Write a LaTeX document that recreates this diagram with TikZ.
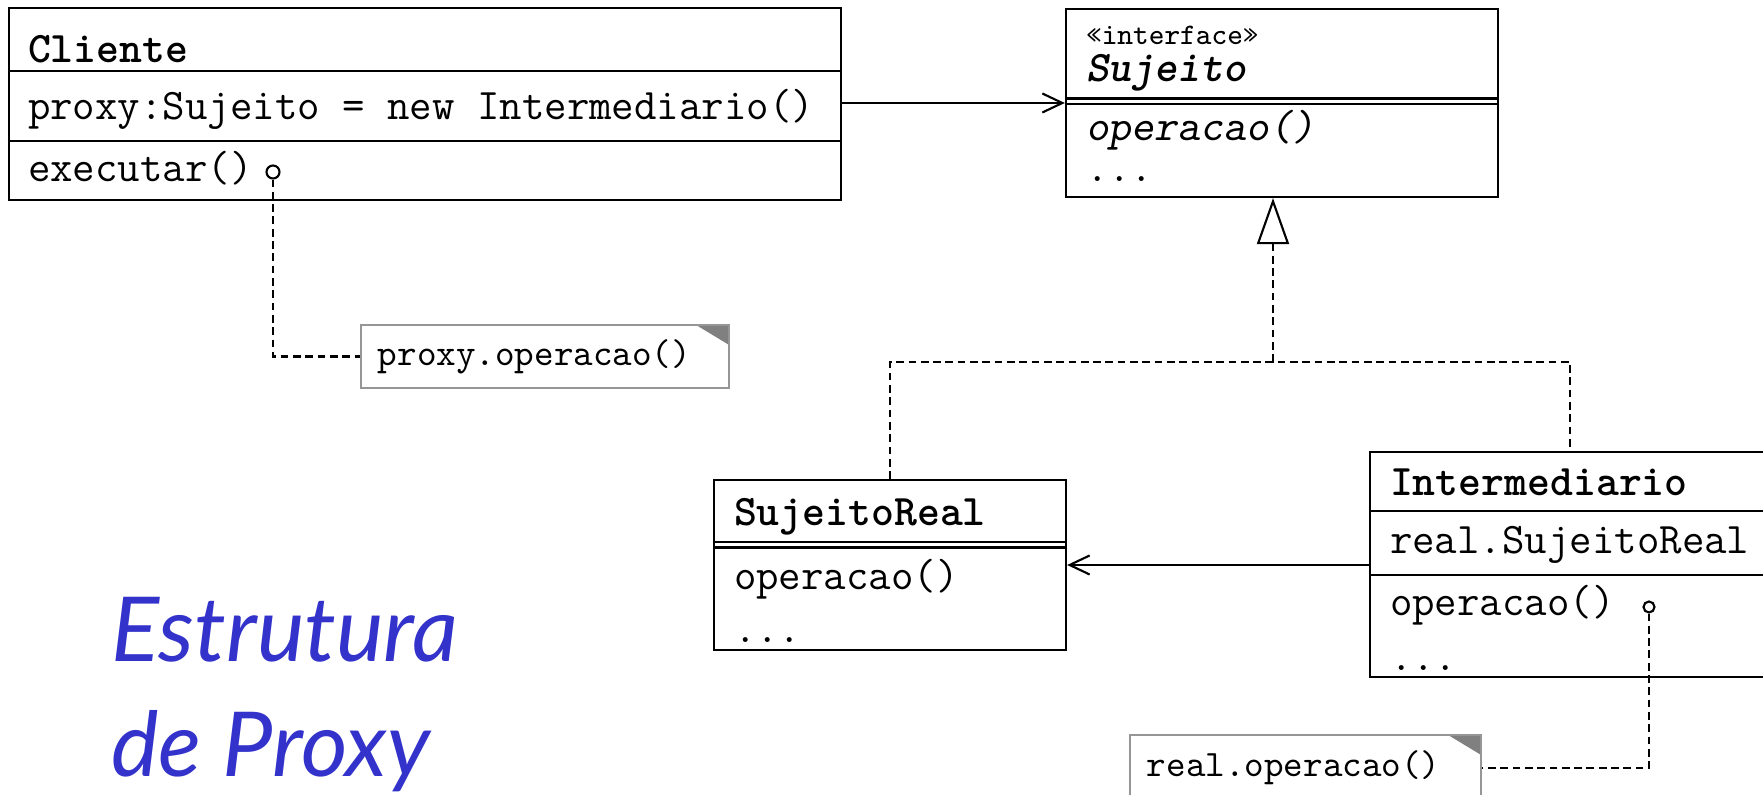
\documentclass[tikz,border=0pt]{standalone}
\usepackage{fontspec}
\newfontfamily\titlefont{Lato}
\usetikzlibrary{positioning,arrows.meta}
\definecolor{titleblue}{RGB}{51,51,204}
\definecolor{notegray}{RGB}{128,128,128}
\definecolor{noteline}{RGB}{150,150,150}

\begin{document}
\begin{tikzpicture}[x=0.01cm,y=-0.01cm,line width=0.6pt,
  font=\ttfamily\fontsize{12.4}{14}\selectfont,
  classbox/.style={draw,inner sep=0pt},
  member/.style={anchor=base west,inner sep=0pt},
  note/.style={draw=noteline,fill=white,inner xsep=0.17cm,inner ysep=0pt,align=left,
    font=\ttfamily\fontsize{10.6}{12}\selectfont,
    path picture={\fill[notegray] (path picture bounding box.north east) -- ++(-3.3mm,0) -- ++(3.3mm,-2mm) -- cycle;}},
  lolly/.style={draw,circle,inner sep=0pt,minimum size=1.3mm,fill=white},
  dashedline/.style={dash pattern=on 2.2pt off 1.3pt},
  assoc/.style={-{Straight Barb[length=2mm,width=1.9mm]}},
  realize/.style={dashedline,-{Triangle[open,length=4.6mm,width=3.2mm]}},
  title/.style={anchor=base west,inner sep=0pt,text=titleblue,font=\titlefont\itshape\fontsize{25.5}{30}\selectfont}]
  \path[use as bounding box,fill=white] (0,0) rectangle (1763,795);

  \node[classbox,minimum width=8.32cm,minimum height=1.92cm] (cliente) at (425,104) {};
  \draw (cliente.west |- 0,71) -- (cliente.east |- 0,71);
  \draw (cliente.west |- 0,141) -- (cliente.east |- 0,141);
  \node[member,font=\ttfamily\bfseries\fontsize{12.4}{14}\selectfont] (clinome) at (27,63) {Cliente};
  \node[member] (cliproxy) at (27,120) {proxy:Sujeito = new Intermediario()};
  \node[member] (cliexec) at (27,182) {executar()};
  \node[lolly] (lolA) at (273,172) {};

  \node[classbox,minimum width=4.32cm,minimum height=1.88cm] (sujeito) at (1282,103) {};
  \draw (sujeito.west |- 0,98.5) -- (sujeito.east |- 0,98.5);
  \draw (sujeito.west |- 0,104) -- (sujeito.east |- 0,104);
  \node[member,font=\ttfamily\fontsize{8.5}{10}\selectfont] (sujster) at (1085,45) {«interface»};
  \node[member,font=\ttfamily\bfseries\slshape\fontsize{12.4}{14}\selectfont] (sujnome) at (1085,82) {Sujeito};
  \node[member,font=\ttfamily\slshape\fontsize{12.4}{14}\selectfont] (sujop) at (1085,141) {operacao()};
  \node[member] (sujmais) at (1085,182) {...};

  \node[classbox,minimum width=3.52cm,minimum height=1.70cm] (sreal) at (890,565) {};
  \draw (sreal.west |- 0,542) -- (sreal.east |- 0,542);
  \draw (sreal.west |- 0,547.5) -- (sreal.east |- 0,547.5);
  \node[member,font=\ttfamily\bfseries\fontsize{12.4}{14}\selectfont] (srnome) at (733,526) {SujeitoReal};
  \node[member] (srop) at (733,590) {operacao()};
  \node[member] (srmais) at (733,643) {...};

  \node[classbox,minimum width=4.00cm,minimum height=2.25cm] (inter) at (1570,564.5) {};
  \draw (inter.west |- 0,511) -- (inter.east |- 0,511);
  \draw (inter.west |- 0,575) -- (inter.east |- 0,575);
  \node[member,font=\ttfamily\bfseries\fontsize{12.4}{14}\selectfont] (innome) at (1389,496) {Intermediario};
  \node[member] (inreal) at (1389,554) {real.SujeitoReal};
  \node[member] (inop) at (1389,616) {operacao()};
  \node[member] (inmais) at (1389,671) {...};
  \node[lolly,minimum size=1.1mm] (lolB) at (1649,607) {};

  \node[note,text width=3.34cm,minimum height=0.63cm] (noteA) at (545,356.5) {proxy.operacao()};
  \node[note,text width=3.17cm,minimum height=0.66cm] (noteB) at (1305.5,768) {real.operacao()};

  \node[title] (titulo1) at (110,662) {Estrutura};
  \node[title] (titulo2) at (110,777) {de Proxy};

  \coordinate (gen) at (1273,362);
  \draw[assoc] (cliente.east |- sujeito.west) -- (sujeito.west);
  \draw[realize] (gen) -- (gen |- sujeito.south);
  \draw[dashedline] (sreal.north) |- (gen) -| (inter.north);
  \draw[assoc] (inter.west |- sreal.east) -- (sreal.east);
  \draw[dashedline] (lolA.south) |- (noteA.west);
  \draw[dashedline] (lolB.south) |- (noteB.east);
\end{tikzpicture}
\end{document}
